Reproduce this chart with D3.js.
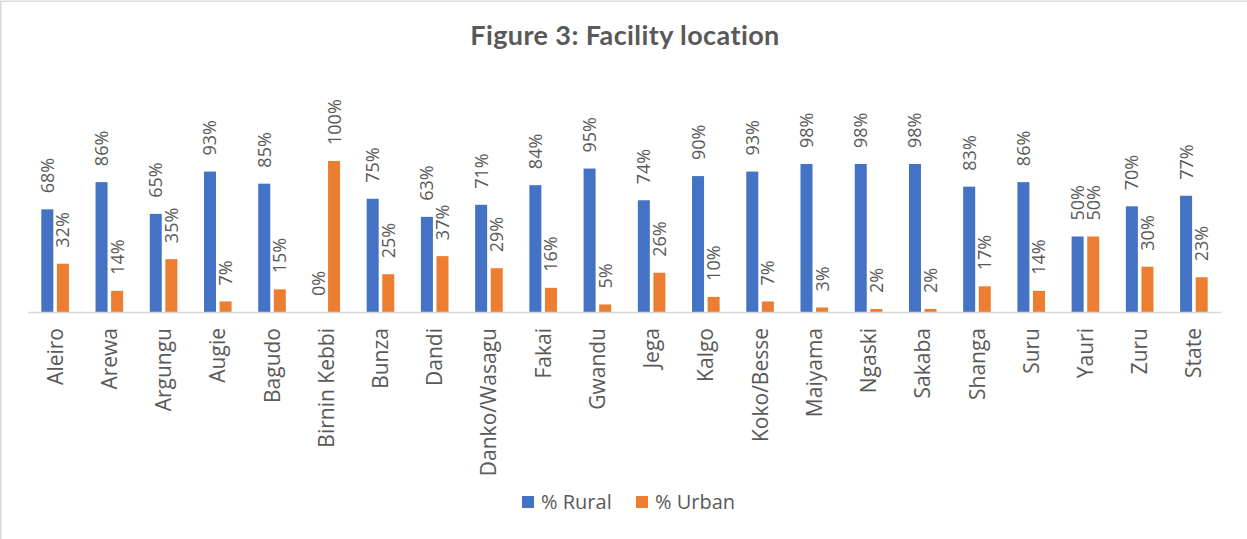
<!DOCTYPE html>
<html>
<head>
<meta charset="utf-8">
<script src="https://cdn.jsdelivr.net/npm/d3@7"></script>
<style>
  body { margin: 0; background: #fff; }
  svg { display: block; }
</style>
</head>
<body>
<div class="vis-bars"></div>
<script>
// data
var lgas = ["Aleiro", "Arewa", "Argungu", "Augie", "Bagudo", "Birnin Kebbi", "Bunza", "Dandi",
  "Danko/Wasagu", "Fakai", "Gwandu", "Jega", "Kalgo", "Koko/Besse", "Maiyama", "Ngaski",
  "Sakaba", "Shanga", "Suru", "Yauri", "Zuru", "State"];
var rural = [68, 86, 65, 93, 85, 0, 75, 63, 71, 84, 95, 74, 90, 93, 98, 98, 98, 83, 86, 50, 70, 77];
var urban = [32, 14, 35, 7, 15, 100, 25, 37, 29, 16, 5, 26, 10, 7, 3, 2, 2, 17, 14, 50, 30, 23];
var seriesNames = ["% Rural", "% Urban"];
var colors = ["#4472C4", "#ED7D31"];

var width = 1247, height = 539;
var textColor = "#595959";
var font = "'Open Sans', sans-serif";

var svg = d3.select(".vis-bars")
  .append("svg")
    .attr("width", width)
    .attr("height", height);

// chart frame (only the left and top edges show in the picture)
svg.append("rect")
  .attr("x", 0.75).attr("y", 1.25)
  .attr("width", width + 20).attr("height", height + 20)
  .attr("fill", "none")
  .attr("stroke", "#d9d9d9")
  .attr("stroke-width", 1.5);

// title
svg.append("text")
  .attr("x", 625).attr("y", 45)
  .attr("text-anchor", "middle")
  .style("font-family", "Lato, sans-serif")
  .style("font-weight", "bold")
  .style("font-size", "27px")
  .style("letter-spacing", "0.4px")
  .style("fill", textColor)
  .text("Figure 3: Facility location");

// scales
var x0 = d3.scaleBand()
  .domain(lgas)
  .range([28, 1221])
  .paddingInner(0)
  .paddingOuter(0);

var x1 = d3.scaleBand()
  .domain(seriesNames)
  .range([-13.8, 13.8])
  .paddingInner(0.23);

var y = d3.scaleLinear()
  .domain([0, 100])
  .range([312, 161]);

var rows = lgas.map(function (name, i) {
  return {name: name, values: [rural[i], urban[i]]};
});

var groups = svg.append("g")
  .selectAll("g")
  .data(rows)
  .enter()
  .append("g")
    .attr("transform", function (d) { return "translate(" + (x0(d.name) + x0.bandwidth() / 2) + ",0)"; });

var bars = groups.selectAll("g.bar")
  .data(function (d) { return d.values.map(function (v, k) { return {v: v, k: k}; }); })
  .enter()
  .append("g")
    .attr("class", "bar");

bars.append("rect")
  .attr("x", function (d) { return x1(seriesNames[d.k]); })
  .attr("y", function (d) { return y(d.v); })
  .attr("width", x1.bandwidth())
  .attr("height", function (d) { return y(0) - y(d.v); })
  .style("fill", function (d) { return colors[d.k]; });

// data labels, rotated
bars.append("text")
  .attr("transform", function (d) {
    var cx = x1(seriesNames[d.k]) + x1.bandwidth() / 2;
    return "translate(" + cx + "," + (y(d.v) - 16) + ") rotate(-90)";
  })
  .attr("dy", "0.36em")
  .attr("text-anchor", "start")
  .style("font-family", font)
  .style("font-size", "18px")
  .style("fill", textColor)
  .text(function (d) { return d.v + "%"; });

// category axis line
svg.append("line")
  .attr("x1", 28).attr("x2", 1221)
  .attr("y1", y(0) + 0.5).attr("y2", y(0) + 0.5)
  .attr("stroke", "#d9d9d9")
  .attr("stroke-width", 1.5);

// category labels
svg.append("g")
  .selectAll("text")
  .data(lgas)
  .enter()
  .append("text")
    .attr("transform", function (d) {
      return "translate(" + (x0(d) + x0.bandwidth() / 2) + ",328) rotate(-90)";
    })
    .attr("dy", "0.36em")
    .attr("text-anchor", "end")
    .style("font-family", font)
    .style("font-size", "21px")
    .style("fill", textColor)
    .text(function (d) { return d; });

// legend
var legendX = [522, 636];
var legend = svg.append("g")
  .selectAll("g")
  .data(seriesNames)
  .enter()
  .append("g")
    .attr("transform", function (d, i) { return "translate(" + legendX[i] + ",496)"; });

legend.append("rect")
  .attr("width", 12).attr("height", 12)
  .style("fill", function (d, i) { return colors[i]; });

legend.append("text")
  .attr("x", 19).attr("y", 6)
  .attr("dy", "0.36em")
  .style("font-family", font)
  .style("font-size", "20px")
  .style("fill", textColor)
  .text(function (d) { return d; });
</script>
</body>
</html>
